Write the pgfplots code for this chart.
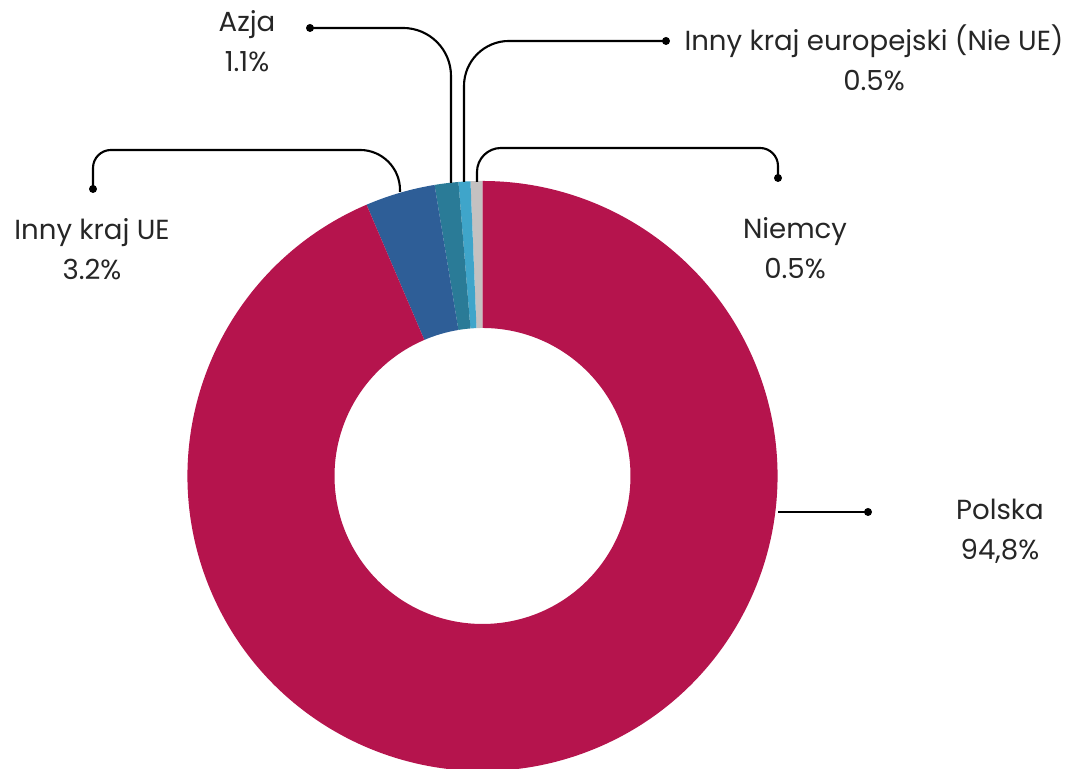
\documentclass[border=0pt]{standalone}
\usepackage{pgfplots}
\pgfplotsset{compat=1.18}
\usepackage{fontspec}
\setmainfont{Poppins}
\definecolor{cPL}{HTML}{B5144D}
\definecolor{cUE}{HTML}{2E5E97}
\definecolor{cAZ}{HTML}{2A7B97}
\definecolor{cEU}{HTML}{3FA5CA}
\definecolor{cDE}{HTML}{C4C1C1}
% slice shares as drawn (percent), counter-clockwise from 12 o'clock
\def\vDE{0.65}
\def\vEU{0.65}
\def\vAZ{1.30}
\def\vUE{3.83}
\def\vPL{93.57}
\def\Ro{2.95cm}
\def\Ri{1.48cm}
\def\Rd{1.47cm}
\newcommand{\sector}[3]{% color, start angle, end angle
  \fill[#1] (axis cs:482.5,293) ++(#2:\Ro) arc[start angle=#2, end angle=#3, radius=\Ro]
    -- ++({#3+180}:\Rd) arc[start angle=#3, end angle=#2, radius=\Ri] -- cycle;}
\begin{document}
\begin{tikzpicture}
\useasboundingbox (0,0) rectangle (10.73cm,7.69cm);
\begin{axis}[
  at={(0,0)}, anchor=south west,
  scale only axis, width=10.73cm, height=7.69cm,
  xmin=0, xmax=1073, ymin=0, ymax=769,
  hide axis, clip=false,
]
\pgfmathsetmacro{\aA}{90}
\pgfmathsetmacro{\aB}{\aA+3.6*\vDE}
\pgfmathsetmacro{\aC}{\aB+3.6*\vEU}
\pgfmathsetmacro{\aD}{\aC+3.6*\vAZ}
\pgfmathsetmacro{\aE}{\aD+3.6*\vUE}
\pgfmathsetmacro{\aF}{\aE+3.6*\vPL}
\sector{cDE}{\aA}{\aB}
\sector{cEU}{\aB}{\aC}
\sector{cAZ}{\aC}{\aD}
\sector{cUE}{\aD}{\aE}
\sector{cPL}{\aE}{\aF}
% leader lines
\begin{scope}[line width=0.6pt, black]
\draw (axis cs:93,580) [rounded corners=1.8mm] -- (axis cs:93,619) [rounded corners=4mm] -- (axis cs:400,619) -- (axis cs:400,577);
\fill (axis cs:93,580) circle[radius=0.04cm];
\draw[rounded corners=4.8mm] (axis cs:310,741) -- (axis cs:451,741) -- (axis cs:451,586);
\fill (axis cs:310,741) circle[radius=0.04cm];
\draw[rounded corners=4.5mm] (axis cs:464,587) -- (axis cs:464,728) -- (axis cs:666,728);
\fill (axis cs:666,728) circle[radius=0.04cm];
\draw (axis cs:477,587) [rounded corners=2.4mm] -- (axis cs:477,621) [rounded corners=1.8mm] -- (axis cs:778,621) -- (axis cs:778,591);
\fill (axis cs:778,591) circle[radius=0.04cm];
\draw (axis cs:778,257) -- (axis cs:868,257);
\fill (axis cs:868,257) circle[radius=0.04cm];
\end{scope}
% labels
\begin{scope}[every node/.style={align=center, inner sep=0pt, font=\fontsize{7.85}{11.4}\selectfont, text=black!85}]
\node at (axis cs:247,728) {Azja\\1.1\%};
\node at (axis cs:874,711) {Inny kraj europejski (Nie UE)\\0.5\%};
\node at (axis cs:92,520) {Inny kraj UE\\3.2\%};
\node at (axis cs:795,521) {Niemcy\\0.5\%};
\node at (axis cs:1000,238) {Polska\\94,8\%};
\end{scope}
\end{axis}
\end{tikzpicture}
\end{document}
